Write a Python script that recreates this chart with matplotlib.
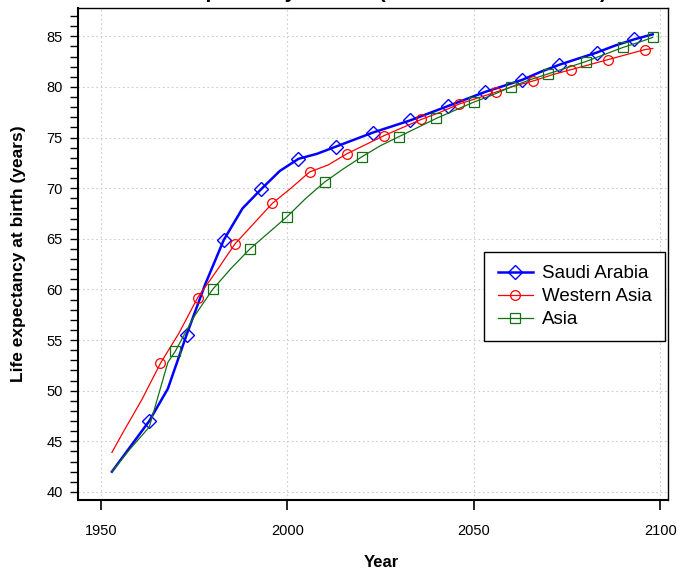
import matplotlib
matplotlib.use("Agg")
import matplotlib.pyplot as plt
from matplotlib.ticker import MultipleLocator

plt.rcParams['font.family'] = ['Liberation Sans', 'DejaVu Sans']

# values
saudi_years = [1953, 1958, 1963, 1968, 1973, 1978, 1983, 1988, 1993, 1998,
               2003, 2008, 2013, 2018, 2023, 2028, 2033, 2038, 2043, 2048,
               2053, 2058, 2063, 2068, 2073, 2078, 2083, 2088, 2093, 2098]
saudi_le = [42.0, 44.5, 47.0, 50.2, 55.5, 60.5, 64.9, 68.0, 69.9, 71.7,
            72.9, 73.4, 74.1, 74.8, 75.5, 76.1, 76.7, 77.4, 78.1, 78.8,
            79.5, 80.1, 80.7, 81.5, 82.2, 82.8, 83.4, 84.1, 84.7, 85.2]

wasia_years = [1953, 1956, 1961, 1966, 1971, 1976, 1981, 1986, 1991, 1996,
               2001, 2006, 2011, 2016, 2021, 2026, 2031, 2036, 2041, 2046,
               2051, 2056, 2061, 2066, 2071, 2076, 2081, 2086, 2091, 2096, 2098]
wasia_le = [43.9, 45.9, 49.1, 52.7, 55.7, 59.2, 61.8, 64.5, 66.5, 68.5,
            70.0, 71.6, 72.3, 73.4, 74.3, 75.2, 76.0, 76.8, 77.5, 78.3,
            78.9, 79.5, 80.1, 80.6, 81.2, 81.7, 82.2, 82.7, 83.2, 83.7, 83.8]

asia_years = [1953, 1958, 1963, 1968, 1970, 1975, 1980, 1985, 1990, 1995,
              2000, 2005, 2010, 2015, 2020, 2025, 2030, 2035, 2040, 2045,
              2050, 2055, 2060, 2065, 2070, 2075, 2080, 2085, 2090, 2095, 2098]
asia_le = [42.0, 44.3, 46.4, 52.8, 53.9, 57.3, 60.0, 62.1, 64.0, 65.6,
           67.2, 69.0, 70.6, 71.9, 73.1, 74.2, 75.1, 76.0, 76.9, 77.7,
           78.5, 79.2, 80.0, 80.7, 81.3, 81.9, 82.5, 83.2, 83.9, 84.5, 84.9]

fig = plt.figure(figsize=(6.96, 5.70), dpi=100)
ax = fig.add_axes([78 / 696, 70 / 570, 590 / 696, 492 / 570])

ax.plot(saudi_years, saudi_le, color='blue', lw=1.8, marker='D', ms=7.5,
        mfc='none', mec='blue', mew=1.0, markevery=(2, 2), label='Saudi Arabia')
ax.plot(wasia_years, wasia_le, color='red', lw=0.9, marker='o', ms=7,
        mfc='none', mec='red', mew=0.9, markevery=(3, 2), label='Western Asia')
ax.plot(asia_years, asia_le, color='#157015', lw=0.9, marker='s', ms=7,
        mfc='none', mec='#157015', mew=0.9, markevery=(4, 2), label='Asia')

ax.set_xlim(1943.9, 2102.1)
ax.set_ylim(39.2, 87.8)
ax.xaxis.set_major_locator(MultipleLocator(50))
ax.yaxis.set_major_locator(MultipleLocator(5))
ax.yaxis.set_minor_locator(MultipleLocator(1))
ax.grid(True, which='major', color='#cccccc', linestyle=(0, (1.5, 2.5)), lw=0.8)

for side in ['left', 'bottom']:
    ax.spines[side].set_linewidth(1.5)
for side in ['top', 'right']:
    ax.spines[side].set_linewidth(1.0)

ax.tick_params(axis='x', which='major', length=7, width=1.2, pad=10.5, labelsize=10.5)
ax.tick_params(axis='y', which='both', length=6, width=1.0, pad=5, labelsize=10.5)

ax.set_xlabel('Year', fontweight='bold', fontsize=12)
ax.xaxis.set_label_coords(0.514, -0.112)
ax.set_ylabel('Life expectancy at birth (years)', fontweight='bold', fontsize=12.5)
ax.yaxis.set_label_coords(-0.088, 0.5)

# title sits mostly above the canvas, only descenders show (as in the source)
fig.text(373 / 696, 1 - 2 / 570, 'Life expectancy at birth (both sexes combined)',
         ha='center', va='bottom', fontweight='bold', fontsize=15)

leg = ax.legend(loc='upper right', bbox_to_anchor=(0.995, 0.504), borderaxespad=0,
                fontsize=13.5, fancybox=False, framealpha=1, edgecolor='black',
                handlelength=1.87, handletextpad=0.5, labelspacing=0.31,
                borderpad=0.7)
leg.get_frame().set_linewidth(1.0)

fig.savefig('out.png', dpi=100)
